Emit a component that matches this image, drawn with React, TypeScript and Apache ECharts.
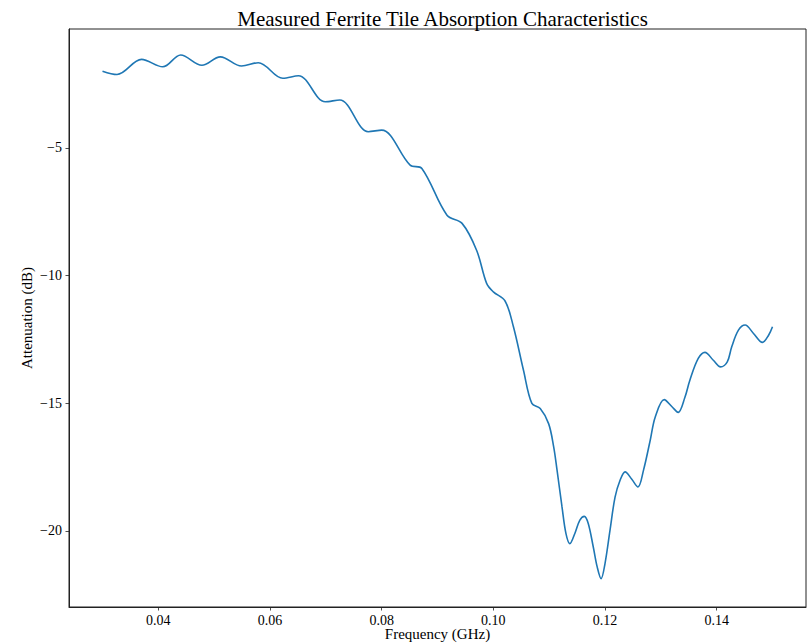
import React, { useEffect, useRef } from "react";
import * as echarts from "echarts";

const frequencyGHz = [
  0.0300, 0.0326, 0.0370, 0.0408, 0.0440, 0.0478, 0.0511, 0.0549, 0.0579, 0.0623,
  0.0651, 0.0699, 0.0725, 0.0776, 0.0800, 0.0851, 0.0872, 0.0917, 0.0944, 0.0970,
  0.0988, 0.1000, 0.1021, 0.1036, 0.1054, 0.1069, 0.1084, 0.1099, 0.1108, 0.1114,
  0.1123, 0.1130, 0.1137, 0.1146, 0.1155, 0.1163, 0.1170, 0.1179, 0.1186, 0.1193,
  0.1200, 0.1209, 0.1218, 0.1227, 0.1236, 0.1248, 0.1259, 0.1269, 0.1281, 0.1290,
  0.1306, 0.1320, 0.1331, 0.1343, 0.1352, 0.1367, 0.1379, 0.1394, 0.1407, 0.1419,
  0.1427, 0.1439, 0.1451, 0.1466, 0.1482, 0.1493, 0.1500,
];

const attenuationDb = [
  -2.00, -2.13, -1.54, -1.83, -1.37, -1.77, -1.44, -1.80, -1.67, -2.28,
  -2.18, -3.20, -3.13, -4.37, -4.31, -5.68, -5.81, -7.64, -7.96, -9.01,
  -10.31, -10.64, -11.00, -12.01, -13.71, -15.01, -15.21, -15.80, -16.70, -17.60,
  -19.06, -20.10, -20.50, -20.10, -19.58, -19.43, -19.71, -20.63, -21.41, -21.87,
  -21.28, -19.97, -18.68, -18.02, -17.69, -17.98, -18.28, -17.62, -16.45, -15.54,
  -14.86, -15.14, -15.36, -14.78, -14.10, -13.25, -13.01, -13.32, -13.58, -13.38,
  -12.79, -12.14, -11.94, -12.27, -12.62, -12.34, -12.01,
];

const xTicks = [0.04, 0.06, 0.08, 0.1, 0.12, 0.14];
const yTicks = [-20, -15, -10, -5];

const titleText = "Measured Ferrite Tile Absorption Characteristics";
const xName = "Frequency (GHz)";
const yName = "Attenuation (dB)";

const FONT = "'Liberation Serif', 'DejaVu Serif', serif";

export default function App() {
  const ref = useRef<HTMLDivElement>(null);

  useEffect(() => {
    document.body.style.margin = "0";
    if (!ref.current) return;
    const chart = echarts.init(ref.current, null, { renderer: "svg" });
    const data = frequencyGHz.map((f, i) => [f, attenuationDb[i]]);
    chart.setOption({
      animation: false,
      backgroundColor: "#ffffff",
      title: {
        text: titleText,
        left: 437.5,
        textAlign: "center",
        top: 3,
        textStyle: { fontFamily: FONT, fontSize: 21, fontWeight: "normal", color: "#000" },
      },
      grid: {
        left: 69,
        right: 4,
        top: 29,
        bottom: 37,
        containLabel: false,
        outerBoundsMode: "none",
        show: true,
        borderColor: "#222",
        borderWidth: 1,
        backgroundColor: "transparent",
      },
      xAxis: {
        type: "value",
        min: 0.024,
        max: 0.156,
        name: xName,
        nameLocation: "middle",
        nameGap: 27,
        nameMoveOverlap: false,
        nameTextStyle: {
          fontFamily: FONT,
          fontSize: 15,
          color: "#000",
          verticalAlign: "middle",
        },
        axisLine: { show: true, lineStyle: { color: "#222", width: 1 } },
        axisTick: {
          show: true,
          inside: false,
          length: 3.5,
          customValues: xTicks,
          lineStyle: { color: "#222", width: 0.8 },
        },
        axisLabel: {
          margin: 6,
          customValues: xTicks,
          fontFamily: FONT,
          fontSize: 14,
          color: "#000",
          formatter: (v: number) => v.toFixed(2),
        },
        splitLine: { show: false },
      },
      yAxis: {
        type: "value",
        min: -22.98,
        max: -0.35,
        name: yName,
        nameLocation: "middle",
        nameRotate: 90,
        nameGap: 35,
        nameMoveOverlap: false,
        nameTextStyle: { fontFamily: FONT, fontSize: 15, color: "#000" },
        axisLine: { show: true, lineStyle: { color: "#222", width: 1 } },
        axisTick: {
          show: true,
          inside: false,
          length: 3.5,
          customValues: yTicks,
          lineStyle: { color: "#222", width: 0.8 },
        },
        axisLabel: {
          margin: 7,
          customValues: yTicks,
          fontFamily: FONT,
          fontSize: 14,
          color: "#000",
          formatter: (v: number) => (v < 0 ? "\u2212" + Math.abs(v) : String(v)),
        },
        splitLine: { show: false },
      },
      series: [
        {
          type: "line",
          data,
          showSymbol: false,
          smooth: 0.35,
          lineStyle: { color: "#1f77b4", width: 1.6 },
          itemStyle: { color: "#1f77b4" },
        },
      ],
    });
    return () => chart.dispose();
  }, []);

  return <div ref={ref} style={{ width: 810, height: 644 }} />;
}
